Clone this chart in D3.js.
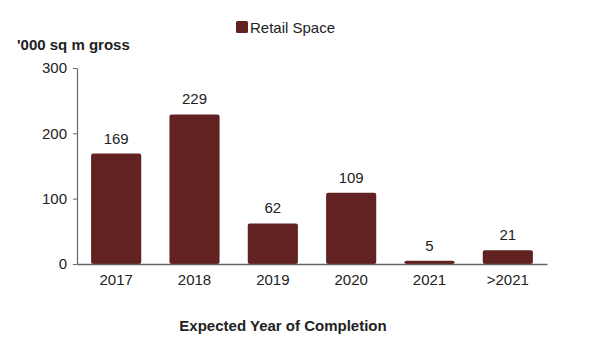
<!DOCTYPE html>
<html><head><meta charset="utf-8">
<script src="https://cdn.jsdelivr.net/npm/d3@7"></script>
<style>body{margin:0;background:#fff}svg{display:block;font-family:"Liberation Sans",Arial,sans-serif}</style>
</head><body>
<svg id="c" width="600" height="360"></svg>
<script>
const categories = ["2017","2018","2019","2020","2021",">2021"];
const values = [169,229,62,109,5,21];
const yTicks = [0,100,200,300];
const seriesName = "Retail Space";

const svg = d3.select("#c");
const m = {l:77, r:53, t:68, b:96};
const W = 600, H = 360;
const FS = 15;
const x = d3.scaleBand().domain(categories).range([m.l, W - m.r]).paddingInner(0.36).paddingOuter(0.18);
const y = d3.scaleLinear().domain([0,300]).range([H - m.b, m.t]);
const color = "#622221";

svg.selectAll("rect.bar").data(values).enter().append("rect")
  .attr("class","bar")
  .attr("x",(d,i)=>x(categories[i]))
  .attr("width",x.bandwidth())
  .attr("y",d=>y(d))
  .attr("height",d=>y(0)-y(d))
  .attr("rx",2).attr("fill",color);

svg.selectAll("text.val").data(values).enter().append("text")
  .attr("x",(d,i)=>x(categories[i])+x.bandwidth()/2)
  .attr("y",d=>y(d)-10)
  .attr("text-anchor","middle").attr("font-size",FS).attr("fill","#222")
  .text(d=>d);

const ya = svg.append("g").attr("transform",`translate(${m.l},0)`)
  .call(d3.axisLeft(y).tickValues(yTicks).tickSize(4).tickSizeOuter(0).tickPadding(6));
ya.select(".domain").attr("stroke","#666").attr("stroke-width",1.2);
ya.selectAll(".tick line").attr("stroke","#666");
ya.selectAll("text").attr("font-size",FS).attr("fill","#222").attr("font-family","Liberation Sans, Arial, sans-serif");

const xa = svg.append("g").attr("transform",`translate(0,${y(0)})`)
  .call(d3.axisBottom(x).tickSize(0).tickPadding(10));
xa.select(".domain").attr("stroke","#666").attr("stroke-width",1.5);
xa.selectAll("text").attr("font-size",FS).attr("fill","#222").attr("font-family","Liberation Sans, Arial, sans-serif");

svg.append("text").attr("x",17).attr("y",50).attr("font-size",FS).attr("font-weight","bold").attr("fill","#222")
  .text("'000 sq m gross");
svg.append("text").attr("x",283).attr("y",331).attr("text-anchor","middle").attr("font-size",FS).attr("font-weight","bold").attr("fill","#222")
  .text("Expected Year of Completion");

const lg = svg.append("g");
lg.append("rect").attr("x",236).attr("y",21).attr("width",12).attr("height",12).attr("rx",1.5).attr("fill",color);
lg.append("text").attr("x",250).attr("y",33).attr("font-size",FS).attr("fill","#222").text(seriesName);
</script>
</body></html>
